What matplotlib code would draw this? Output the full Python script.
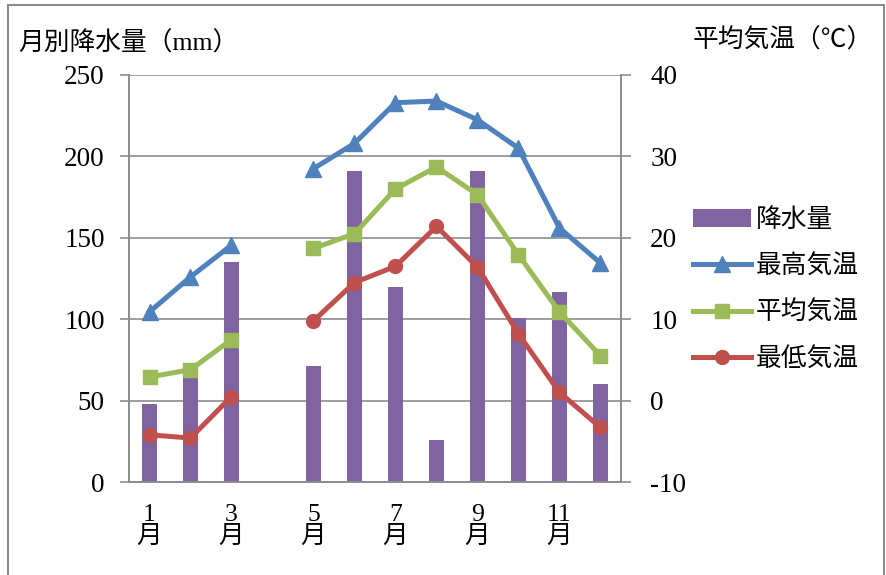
import numpy as np
import matplotlib
matplotlib.use("Agg")
import matplotlib.pyplot as plt
from matplotlib.patches import Rectangle

plt.rcParams["axes.unicode_minus"] = False

# monthly climate data (April missing)
months = np.arange(1, 13)
tick_months = [1, 3, 5, 7, 9, 11]
tick_labels = ["1\n月", "3\n月", "5\n月", "7\n月", "9\n月", "11\n月"]
precip = [48, 68, 135, np.nan, 71, 191, 120, 26, 191, 101, 117, 60]
t_max = [10.9, 15.2, 19.1, np.nan, 28.5, 31.6, 36.6, 36.8, 34.5, 31.0, 21.2, 16.9]
t_mean = [2.9, 3.8, 7.5, np.nan, 18.7, 20.5, 26.0, 28.7, 25.3, 17.9, 10.9, 5.5]
t_min = [-4.2, -4.6, 0.5, np.nan, 9.8, 14.5, 16.5, 21.4, 16.4, 8.2, 1.0, -3.3]

FONT = ["Liberation Serif", "Noto Sans CJK JP"]
GRAY = "#8c8c8c"
FS = 18.5
FS_NUM = 19.5

fig = plt.figure(figsize=(8.86, 5.75), dpi=100)
ax = fig.add_axes([129 / 886, 1 - 482 / 575, 492 / 886, 407 / 575])
ax2 = ax.twinx()

# precipitation bars
ax.bar(months, precip, width=0.39, color="#8064A2", label="降水量", zorder=2)
ax.set_xlim(0.5, 12.5)
ax.set_ylim(0, 250)
ax.set_yticks(range(0, 251, 50))
ax.yaxis.grid(True, color=GRAY, lw=1.2)
ax.set_axisbelow(True)
ax.set_xticks(tick_months)
ax.set_xticklabels(tick_labels, family=FONT, fontsize=FS, linespacing=0.95)
ax.tick_params(axis="x", length=0, pad=16)
ax.tick_params(axis="y", length=6.5, width=1.2, color=GRAY, pad=11)
for lab in ax.get_yticklabels():
    lab.set_family(FONT)
    lab.set_fontsize(FS_NUM)

# temperature lines
ax2.plot(months, t_max, color="#4F81BD", lw=3.6, marker="^", ms=11, label="最高気温")
ax2.plot(months, t_mean, color="#9BBB59", lw=3.6, marker="s", ms=9.5, label="平均気温")
ax2.plot(months, t_min, color="#C0504D", lw=3.6, marker="o", ms=10, label="最低気温")
ax2.set_ylim(-10, 40)
ax2.set_yticks(range(-10, 41, 10))
ax2.tick_params(axis="y", length=7, width=1.2, color=GRAY, pad=14)
for lab in ax2.get_yticklabels():
    lab.set_family(FONT)
    lab.set_fontsize(FS_NUM)

for a in (ax, ax2):
    a.spines["top"].set_visible(False)
    for side in ("left", "right", "bottom"):
        a.spines[side].set_color(GRAY)
        a.spines[side].set_linewidth(1.2)

# axis titles
fig.text(18 / 886, 1 - 43 / 575, "月別降水量（mm）", family=FONT, fontsize=FS,
         ha="left", va="center")
fig.text(693 / 886, 1 - 40 / 575, "平均気温（℃）", family=FONT, fontsize=FS,
         ha="left", va="center")

# legend
h1, l1 = ax.get_legend_handles_labels()
h2, l2 = ax2.get_legend_handles_labels()
fig.legend(h1 + h2, l1 + l2, loc="center left",
           bbox_to_anchor=(693 / 886, 1 - 289.5 / 575), frameon=False,
           prop={"family": FONT, "size": FS}, handlelength=2.25,
           handletextpad=0.2, labelspacing=0.87, borderpad=0, borderaxespad=0)

# outer chart frame
fig.add_artist(Rectangle((8 / 886, -0.01), 876 / 886, 1 - 5 / 575 + 0.01,
                         transform=fig.transFigure, fill=False,
                         edgecolor=GRAY, lw=1.5))

fig.savefig("out.png", dpi=100)
